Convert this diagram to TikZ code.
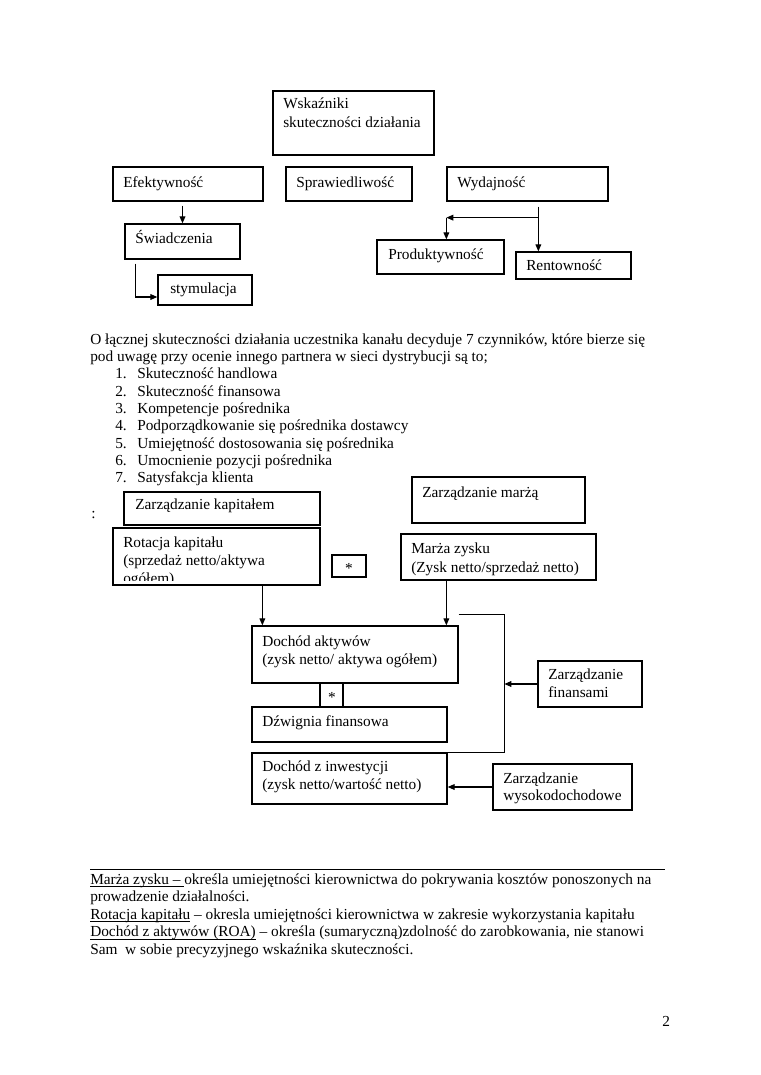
\documentclass[tikz,border=0pt]{standalone}
\usepackage{fontspec}
\setmainfont{Liberation Serif}
\usetikzlibrary{arrows.meta,calc,fit}
\newsavebox\ulbox
\newcommand\uln[1]{\sbox\ulbox{#1}\rlap{\rule[-2.2pt]{\wd\ulbox}{0.5pt}}\usebox\ulbox}
\begin{document}
\begin{tikzpicture}[x=0.78289pt,y=-0.78289pt,
  boxst/.style={draw=black, line width=1pt, inner sep=0pt},
  txt/.style={anchor=base west, inner sep=0pt, font=\fontsize{12}{14}\selectfont},
  arr/.style={-{Triangle[length=5.5pt,width=4.5pt]}, line width=0.9pt},
  ln/.style={line width=0.9pt},
  rulest/.style={line width=0.75pt}]
\useasboundingbox[fill=white] (0,0) rectangle (760,1075);

% ---------- top diagram ----------
\node[boxst, fit={(273,91) (434,155)}] (wsk) {};
\node[txt] (wsk1) at (283,109) {Wskaźniki};
\node[txt] (wsk2) at (283,128) {skuteczności działania};
\node[boxst, fit={(113,167) (263,201)}] (efek) {};
\node[txt] (efekt) at (123,188) {Efektywność};
\node[boxst, fit={(286,167) (412,201)}] (spr) {};
\node[txt] (sprt) at (296,188) {Sprawiedliwość};
\node[boxst, fit={(447,167) (608,201)}] (wyd) {};
\node[txt] (wydt) at (457,188) {Wydajność};
\node[boxst, fit={(125,224) (240,259)}] (swi) {};
\node[txt] (swit) at (135,244) {Świadczenia};
\node[boxst, fit={(158,275) (252,305)}] (sty) {};
\node[txt] (styt) at (170,294) {stymulacja};
\node[boxst, fit={(377,240) (504,274)}] (prod) {};
\node[txt] (prodt) at (388,260) {Produktywność};
\node[boxst, fit={(516,252) (631,279)}] (rent) {};
\node[txt] (rentt) at (526,271) {Rentowność};

\draw[arr] ($(efek.south -| swi.north)+(0,4)$) -- (swi.north);
\draw[arr] ($(swi.south west)+(11,4)$) |- ($(sty.west)+(0,7)$);
\draw[arr] ($(wyd.south west)+(92,5)$) -- ($(rent.north west)+(23,0)$);
\draw[arr] ($(wyd.south west)+(92,16)$) -- ($(wyd.south west)+(0,16)$);
\draw[arr] ($(wyd.south west)+(0,16)$) -- (prod.north -| wyd.south west);

% ---------- paragraph and list ----------
\node[txt] (p1) at (90,344) {O łącznej skuteczności działania uczestnika kanału decyduje 7 czynników, które bierze się};
\node[txt] (p2) at (90,361.3) {pod uwagę przy ocenie innego partnera w sieci dystrybucji są to;};
\node[txt] (n1) at (115,378.7) {1.};
\node[txt] (l1) at (137,378.7) {Skuteczność handlowa};
\node[txt] (n2) at (115,396.0) {2.};
\node[txt] (l2) at (137,396.0) {Skuteczność finansowa};
\node[txt] (n3) at (115,413.3) {3.};
\node[txt] (l3) at (137,413.3) {Kompetencje pośrednika};
\node[txt] (n4) at (115,430.7) {4.};
\node[txt] (l4) at (137,430.7) {Podporządkowanie się pośrednika dostawcy};
\node[txt] (n5) at (115,448.0) {5.};
\node[txt] (l5) at (137,448.0) {Umiejętność dostosowania się pośrednika};
\node[txt] (n6) at (115,465.3) {6.};
\node[txt] (l6) at (137,465.3) {Umocnienie pozycji pośrednika};
\node[txt] (n7) at (115,482.7) {7.};
\node[txt] (l7) at (137,482.7) {Satysfakcja klienta};

% ---------- lower diagram ----------
\node[txt] (colon) at (91,518) {:};
\node[boxst, fit={(124,492) (320,525)}] (zk) {};
\node[txt] (zkt) at (135,509) {Zarządzanie kapitałem};
\node[boxst, fit={(113,528) (320,585)}] (rot) {};
\begin{scope}
  \clip (113,528) rectangle (320,580.5);
  \node[txt] (rot1) at (123,547) {Rotacja kapitału};
  \node[txt] (rot2) at (123,565) {(sprzedaż netto/aktywa};
  \node[txt] (rot3) at (123,583.5) {ogółem)};
\end{scope}
\node[boxst, fit={(332,555) (366,577)}] (s1) {};
\node[txt, anchor=base] (s1t) at (349,573) {*};

\node[boxst, fit={(412,477) (585,523)}] (zm) {};
\node[txt] (zmt) at (422,497) {Zarządzanie marżą};
\node[boxst, fit={(401,534) (596,580)}] (mz) {};
\node[txt] (mz1) at (411,553) {Marża zysku};
\node[txt] (mz2) at (411,572) {(Zysk netto/sprzedaż netto)};

\node[boxst, fit={(252,626) (458,683)}] (da) {};
\node[txt] (da1) at (262,646) {Dochód aktywów};
\node[txt] (da2) at (262,664) {(zysk netto/ aktywa ogółem)};
\node[boxst, fit={(320,683) (343,707)}] (s2) {};
\node[txt, anchor=base] (s2t) at (332,702) {*};
\node[boxst, fit={(252,707) (447,742)}] (dz) {};
\node[txt] (dzt) at (262,726) {Dźwignia finansowa};
\node[boxst, fit={(252,753) (447,804)}] (di) {};
\node[txt] (di1) at (262,771) {Dochód z inwestycji};
\node[txt] (di2) at (262,789) {(zysk netto/wartość netto)};
\node[boxst, fit={(538,661) (642,707)}] (zf) {};
\node[txt] (zf1) at (548,679) {Zarządzanie};
\node[txt] (zf2) at (548,697) {finansami};
\node[boxst, fit={(493,764) (632,810)}] (zw) {};
\node[txt] (zw1) at (503,783) {Zarządzanie};
\node[txt] (zw2) at (503,800) {wysokodochodowe};

\coordinate (c1) at ($(da.north west)+(11,0)$);
\coordinate (c2) at ($(da.north west)+(195,0)$);
\draw[arr] (rot.south -| c1) -- (c1);
\draw[arr] (mz.south -| c2) -- (c2);
\draw[ln] ($(da.north east)+(0,-11)$) -- ++(46,0) |- ($(di.north east)+(-12,0)$);
\draw[arr] (zf.west) -- ++(-33,0);
\draw[arr] (zw.west) -- (zw.west -| di.east);

% ---------- footnote ----------
\coordinate (r1) at (90,869);
\coordinate (r2) at (665,869);
\draw[rulest] (r1) -- (r2);
\node[txt] (f1) at (90,884) {\uln{Marża zysku –\ }określa umiejętności kierownictwa do pokrywania kosztów ponoszonych na};
\node[txt] (f2) at (90,901.5) {prowadzenie działalności.};
\node[txt] (f3) at (90,919) {\uln{Rotacja kapitału} – okresla umiejętności kierownictwa w zakresie wykorzystania kapitału};
\node[txt] (f4) at (90,936.5) {\uln{Dochód z aktywów (ROA)} – określa (sumaryczną)zdolność do zarobkowania, nie stanowi};
\node[txt] (f5) at (90,954) {Sam\ \ w sobie precyzyjnego wskaźnika skuteczności.};

\node[txt] (pg) at (662,1026) {2};
\end{tikzpicture}
\end{document}
